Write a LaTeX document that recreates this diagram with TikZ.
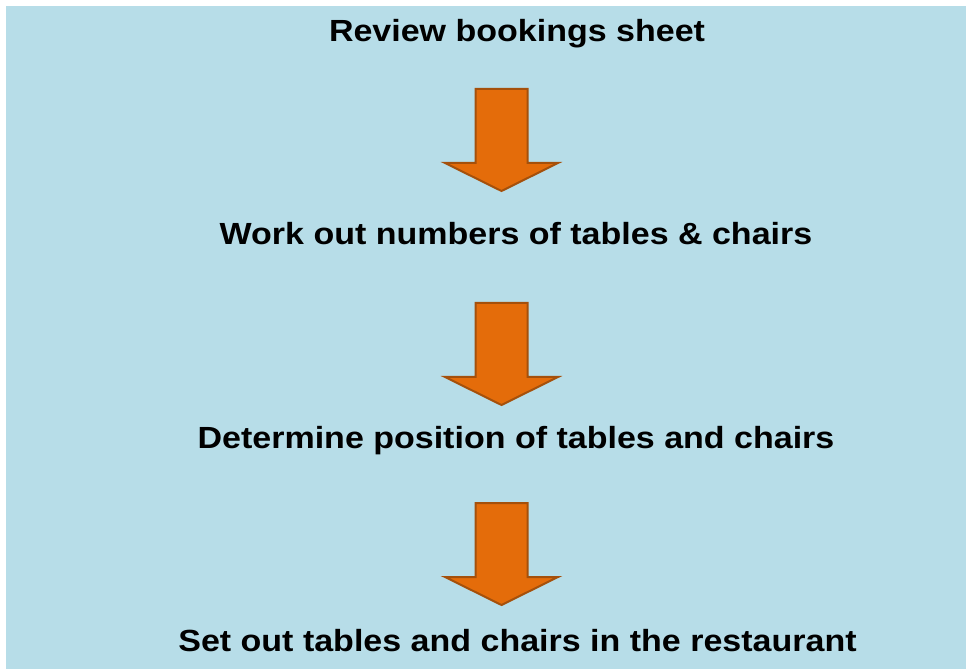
\documentclass[tikz,border=0pt]{standalone}
\usepackage{fontspec}
\setmainfont{Liberation Sans}
\definecolor{panelblue}{HTML}{B7DDE8}
\definecolor{arrowfill}{HTML}{E46C0A}
\definecolor{arrowedge}{HTML}{A5500B}
\begin{document}
\begin{tikzpicture}[x=1pt,y=1pt,
  steptext/.style={font=\fontsize{34}{40}\selectfont\bfseries, text=black,
    anchor=base, inner sep=0pt, yscale=0.9, transform shape},
  downarrow/.pic={
    \draw[fill=arrowfill, draw=arrowedge, line width=2pt, line join=miter]
      (-26,0) -- (26,0) -- (26,-74) -- (56.5,-74) -- (0,-102)
      -- (-56.5,-74) -- (-26,-74) -- cycle;
  }]
  % page and panel
  \useasboundingbox (0,0) rectangle (966,670);
  \fill[white] (0,0) rectangle (966,670);
  \fill[panelblue] (6,1) rectangle (966,664);

  % steps of the flow
  \node[steptext] (s1) at (517,628) {Review bookings sheet};
  \node[steptext] (s2) at (516,425) {Work out numbers of tables \& chairs};
  \node[steptext] (s3) at (516,222) {Determine position of tables and chairs};
  \node[steptext] (s4) at (517.5,19) {Set out tables and chairs in the restaurant};

  % block arrows between the steps
  \coordinate (a1) at (501.5,581);
  \coordinate (a2) at (501.5,367);
  \coordinate (a3) at (501.5,167);
  \pic at (a1) {downarrow};
  \pic at (a2) {downarrow};
  \pic at (a3) {downarrow};
\end{tikzpicture}
\end{document}
